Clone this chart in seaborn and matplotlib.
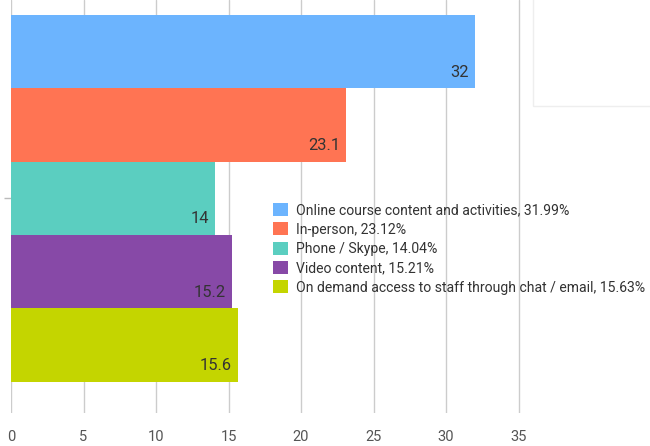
import matplotlib
matplotlib.use("Agg")
import matplotlib.pyplot as plt
import seaborn as sns
import pandas as pd
from matplotlib.patches import Rectangle

series = ["Online course content and activities",
          "In-person",
          "Phone / Skype",
          "Video content",
          "On demand access to staff through chat / email"]
values = [31.99, 23.12, 14.04, 15.21, 15.63]
bar_labels = ["32", "23.1", "14", "15.2", "15.6"]
colors = ["#6CB4FE", "#FF7453", "#5BCEC0", "#8749A7", "#C4D500"]
xticks = [0, 5, 10, 15, 20, 25, 30, 35]

sns.set_theme(style="white")
plt.rcParams['font.family'] = ['Roboto', 'DejaVu Sans']

df = pd.DataFrame({"cat": [""] * len(series), "series": series, "value": values})

W, H = 650, 446
fig = plt.figure(figsize=(6.5, 4.46), dpi=100)
x0 = 11.0
pxu = 14.5
xmax = 35.6
ax = fig.add_axes([x0 / W, (H - 413) / H, xmax * pxu / W, 413 / H])

sns.barplot(data=df, x="value", y="cat", hue="series", palette=colors,
            orient="h", width=0.8, dodge=True, saturation=1, ax=ax,
            legend=True, edgecolor="none", linewidth=0)

ax.set_xlim(0, xmax)
ax.set_ylim(0.468, -0.4327)
ax.set_xticks(xticks)
ax.set_xticklabels([str(t) for t in xticks])
ax.xaxis.grid(True, color="#CCCCCC", linewidth=1)
ax.yaxis.grid(False)
ax.set_axisbelow(True)
for s in ax.spines.values():
    s.set_visible(False)
ax.set_xlabel("")
ax.set_ylabel("")
ax.tick_params(axis="x", length=0, pad=12, labelsize=10.5, labelcolor="#555555")
ax.tick_params(axis="y", length=5, width=1, color="#BBBBBB", left=True, labelleft=False)

# value labels inside bars
for cont, lab in zip(ax.containers, bar_labels):
    for rect in cont:
        xr = rect.get_x() + rect.get_width()
        yc = rect.get_y() + rect.get_height() * 0.78
        ax.text(xr - 0.4, yc, lab, ha="right", va="center", fontsize=11.8,
                color="#333333")

# faint box at top right
fig.patches.append(Rectangle((533 / W, (H - 106) / H), 130 / W, 120 / H,
                             transform=fig.transFigure, facecolor="white",
                             edgecolor="#EEEEEE", linewidth=1, zorder=0))

# legend
handles, labels = ax.get_legend_handles_labels()
new_labels = [f"{s}, {v:.2f}%" for s, v in zip(series, values)]
leg = ax.legend(handles, new_labels, loc="upper left",
                bbox_to_anchor=(273 / W, (H - 203) / H),
                bbox_transform=fig.transFigure, frameon=False,
                fontsize=10.1, handlelength=1.05, handleheight=1.05,
                handletextpad=0.6, labelspacing=0.36, borderaxespad=0,
                borderpad=0, labelcolor="#333333")

fig.savefig("out.png", dpi=100)
